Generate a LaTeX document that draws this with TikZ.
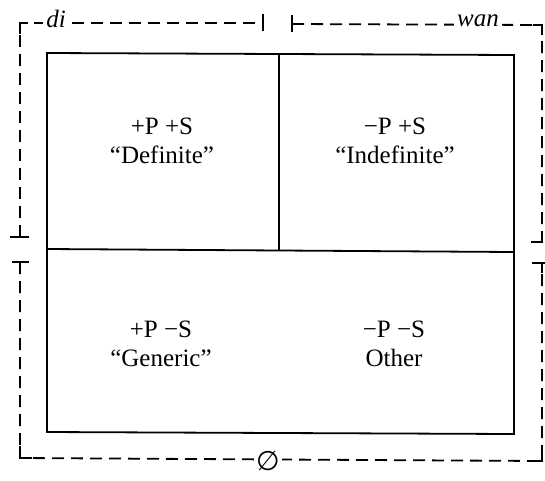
\documentclass[tikz,border=0pt]{standalone}
\usepackage{fontspec}
\setmainfont{Liberation Serif}
\newfontfamily\symfont{DejaVu Sans}
\begin{document}
\begin{tikzpicture}[x=1pt,y=-1pt,
  boxline/.style={line width=1.8pt},
  brk/.style={line width=1.8pt, dash pattern=on 12pt off 7pt},
  tick/.style={line width=1.8pt},
  lbl/.style={font=\fontsize{25}{29}\selectfont, align=center},
  brklbl/.style={fill=white, inner sep=3pt, font=\fontsize{25}{27}\selectfont\itshape}]
\useasboundingbox (0,0) rectangle (545,480);
% main box
\coordinate (tl) at (47,53);
\coordinate (tr) at (514,55);
\coordinate (bl) at (47,432);
\coordinate (br) at (514,434);
\coordinate (ml) at (47,249);
\coordinate (mr) at (514,252);
\coordinate (mt) at (279,54);
\coordinate (mb) at (279,250);
\draw[boxline] (tl) -- (tr) -- (br) -- (bl) -- cycle;
\draw[boxline] (ml) -- (mr);
\draw[boxline] (mt) -- (mb);
% bracket corners and ticks
\coordinate (c1) at (20,23);
\coordinate (c2) at (542,25);
\coordinate (c3) at (542,461);
\coordinate (c4) at (20,458);
\coordinate (t1) at (263,23);
\coordinate (t2) at (292,24);
\coordinate (l1) at (20,237);
\coordinate (l2) at (20,262);
\coordinate (r1) at (542,242);
\coordinate (r2) at (542,263);
% top-left bracket (di)
\draw[brk] (l1) -- (c1) -- (t1);
\draw[tick] (20,34) -- (c1) -- (28,23);
\draw[tick] (263,14) -- (263,31);
\draw[tick] (10,237) -- (29,237);
\node[brklbl] (di) at (56,19) {di};
% top-right bracket (wan)
\draw[brk] (t2) -- (c2) -- (r1);
\draw[tick] (292,15) -- (292,32);
\draw[tick] (533,25) -- (c2) -- (542,35);
\draw[tick] (531,242) -- (543,242);
\node[brklbl] (wan) at (478,21) {wan};
% bottom bracket
\draw[brk] (l2) -- (c4) -- (c3) -- (r2);
\draw[tick] (12,262) -- (29,262);
\draw[tick] (20,262) -- (20,272);
\draw[tick] (532,263) -- (545,263);
\draw[tick] (542,263) -- (542,273);
\draw[tick] (20,446) -- (c4) -- (32,458);
\draw[tick] (530,461) -- (c3) -- (542,450);
\node[brklbl, inner sep=2pt, font=\fontsize{27}{29}\selectfont\symfont] (phi) at (268,461) {∅};
% cell labels
\node[lbl] (q1) at (162,141) {+P +S\\“Definite”};
\node[lbl] (q2) at (395,141) {−P +S\\“Indefinite”};
\node[lbl] (q3) at (161,344) {+P −S\\“Generic”};
\node[lbl] (q4) at (394,344) {−P −S\\Other};
\end{tikzpicture}
\end{document}
